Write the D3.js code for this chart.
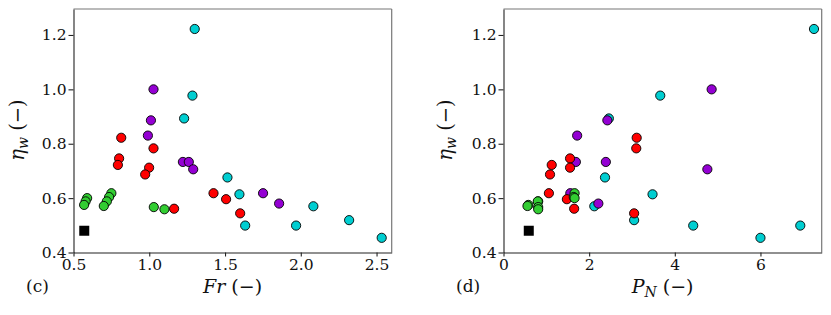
<!DOCTYPE html>
<html>
<head>
<meta charset="utf-8">
<script src="https://cdn.jsdelivr.net/npm/d3@7"></script>
<style>
  body { margin: 0; background: #fff; }
  text { font-family: "DejaVu Serif", serif; fill: #111; }
</style>
</head>
<body>
<svg id="chart" width="831" height="315"></svg>
<script>
// eta_w per group, with the matching Fr and P_N for each run
var etaCyan = [1.222, 0.977, 0.893, 0.676, 0.614, 0.570, 0.519, 0.499, 0.499, 0.454];
var frCyan  = [1.300, 1.285, 1.230, 1.516, 1.595, 2.083, 2.319, 1.633, 1.969, 2.534];
var pnCyan  = [7.25, 3.66, 2.46, 2.37, 3.48, 2.12, 3.05, 4.43, 6.93, 6.00];

var etaPurple = [1.000, 0.886, 0.830, 0.733, 0.733, 0.706, 0.618, 0.580];
var frPurple  = [1.028, 1.011, 0.991, 1.222, 1.261, 1.290, 1.751, 1.857];
var pnPurple  = [4.86, 2.425, 1.72, 1.69, 2.39, 4.76, 1.56, 2.215];

var etaRed = [0.822, 0.783, 0.746, 0.722, 0.712, 0.687, 0.618, 0.596, 0.561, 0.544];
var frRed  = [0.815, 1.028, 0.801, 0.793, 0.999, 0.973, 1.424, 1.507, 1.164, 1.600];
var pnRed  = [3.11, 3.10, 1.554, 1.126, 1.554, 1.086, 1.06, 1.48, 1.65, 3.05];

var etaGreen = [0.618, 0.604, 0.600, 0.588, 0.588, 0.575, 0.571, 0.567, 0.559];
var frGreen  = [0.750, 0.735, 0.590, 0.720, 0.580, 0.570, 0.700, 1.030, 1.100];
var pnGreen  = [1.66, 1.64, 1.66, 0.81, 0.80, 0.58, 0.56, 0.81, 0.81];

var refEta = 0.48, refFr = 0.571, refPn = 0.59;

var yTicks = [0.4, 0.6, 0.8, 1.0, 1.2];
var frTicks = [0.5, 1.0, 1.5, 2.0, 2.5];
var pnTicks = [0, 2, 4, 6];

var series = [
  { eta: etaCyan,   fr: frCyan,   pn: pnCyan,   color: "#00CED1" },
  { eta: etaPurple, fr: frPurple, pn: pnPurple, color: "#9400D3" },
  { eta: etaRed,    fr: frRed,    pn: pnRed,    color: "#FF0000" },
  { eta: etaGreen,  fr: frGreen,  pn: pnGreen,  color: "#32CD32" }
];

const svg = d3.select("#chart");
const plotTop = 9, plotBottom = 252.5;

function panel(opt) {
  const x = d3.scaleLinear().domain(opt.xDomain).range([opt.left, opt.right]);
  const y = d3.scaleLinear().domain([0.4, 1.2955]).range([plotBottom, plotTop]);
  const g = svg.append("g");

  // top/right spines lighter
  g.append("line").attr("x1", opt.left).attr("x2", opt.right).attr("y1", plotTop).attr("y2", plotTop)
    .attr("stroke", "#777").attr("stroke-width", 1.2);
  g.append("line").attr("x1", opt.right).attr("x2", opt.right).attr("y1", plotTop).attr("y2", plotBottom)
    .attr("stroke", "#777").attr("stroke-width", 1.2);

  const xAxis = g.append("g").attr("transform", `translate(0,${plotBottom})`)
    .call(d3.axisBottom(x).tickValues(opt.xTicks).tickFormat(opt.xFormat).tickSize(4).tickPadding(2).tickSizeOuter(0));
  const yAxis = g.append("g").attr("transform", `translate(${opt.left},0)`)
    .call(d3.axisLeft(y).tickValues(yTicks).tickFormat(d3.format(".1f")).tickSize(5).tickPadding(2).tickSizeOuter(0));
  [xAxis, yAxis].forEach(a => {
    a.selectAll("path, line").attr("stroke", "#222").attr("stroke-width", 1.1);
    a.selectAll("text").attr("font-size", 15.5).attr("font-family", "DejaVu Serif").attr("fill", "#111");
  });

  series.forEach(s => {
    g.append("g").selectAll("circle")
      .data(s.eta.map((e, i) => [opt.xs(s)[i], e]))
      .enter()
      .append("circle")
      .attr("cx", d => x(d[0]))
      .attr("cy", d => y(d[1]))
      .attr("r", 4.6)
      .attr("fill", s.color)
      .attr("stroke", "#000")
      .attr("stroke-width", 0.9);
  });

  g.append("rect")
    .attr("x", x(opt.ref) - 5).attr("y", y(refEta) - 5)
    .attr("width", 10).attr("height", 10)
    .attr("fill", "#000");

  // y label eta_w (-)
  const yl = g.append("text")
    .attr("transform", `translate(${opt.yLabelX},130) rotate(-90)`)
    .attr("text-anchor", "middle")
    .attr("font-size", 19.5);
  yl.append("tspan").attr("font-style", "italic").text("η");
  yl.append("tspan").attr("font-style", "italic").attr("font-size", 14).attr("dy", 4).text("w");
  yl.append("tspan").attr("dy", -4).text(" (−)");

  // x label
  const xl = g.append("text")
    .attr("x", (opt.left + opt.right) / 2).attr("y", 293)
    .attr("text-anchor", "middle")
    .attr("font-size", 19);
  opt.xLabel(xl);

  g.append("text")
    .attr("x", opt.tagX).attr("y", 292)
    .attr("font-size", 17)
    .text(opt.tag);
}

panel({
  left: 73.5, right: 391.7, xDomain: [0.5, 2.6],
  xTicks: frTicks, xFormat: d3.format(".1f"),
  xs: s => s.fr, ref: refFr,
  yLabelX: 24, tagX: 26, tag: "(c)",
  xLabel: t => {
    t.append("tspan").attr("font-style", "italic").text("Fr");
    t.append("tspan").text(" (−)");
  }
});

panel({
  left: 503.5, right: 821.7, xDomain: [0, 7.43],
  xTicks: pnTicks, xFormat: d3.format("d"),
  xs: s => s.pn, ref: refPn,
  yLabelX: 452, tagX: 456, tag: "(d)",
  xLabel: t => {
    t.append("tspan").attr("font-style", "italic").text("P");
    t.append("tspan").attr("font-style", "italic").attr("font-size", 14).attr("dy", 4).text("N");
    t.append("tspan").attr("dy", -4).text(" (−)");
  }
});
</script>
</body>
</html>
